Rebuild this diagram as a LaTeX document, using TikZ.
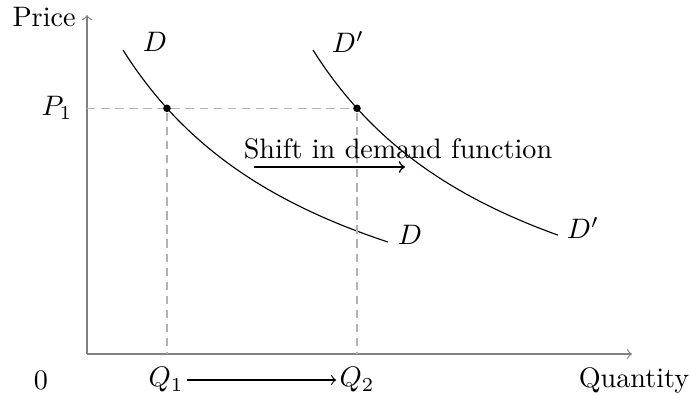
\documentclass[tikz,border=0pt]{standalone}
\begin{document}
\begin{tikzpicture}[x=0.355pt,y=-0.355pt,
  axis/.style={gray,->},
  guide/.style={gray!60,dash pattern=on 3pt off 2pt},
  curve/.style={black,samples=60},
  dot/.style={circle,fill=black,inner sep=0pt,minimum size=2.7pt},
  lbl/.style={inner sep=1pt}]
\useasboundingbox (0,0) rectangle (691,394);
\coordinate (O) at (87,354);
\coordinate (Ytop) at (87,15);
\coordinate (Xend) at (632,354);
\draw[axis] (O) -- (Ytop);
\draw[axis] (O) -- (Xend);
\node[lbl,anchor=east] (price) at (79,17) {Price};
\node[lbl] (zero) at (41,380) {$0$};
\node[lbl] (qty) at (634,380) {Quantity};
\node[lbl] (P1) at (57,108) {$P_1$};
% demand curves
\draw[curve] plot[domain=123:388] (\x,{403.6-788.5/((\x+100)/100)});
\draw[curve] plot[domain=313:558] (\x,{403.6-788.5/((\x-90)/100)});
\node[dot] (A) at (167,108.3) {};
\node[dot] (B) at (357,108.3) {};
\coordinate (A0) at (167,354);
\coordinate (B0) at (357,354);
\coordinate (Py) at (87,108.3);
\draw[guide] (Py) -- (A) -- (B);
\draw[guide] (A) -- (A0);
\draw[guide] (B) -- (B0);
\node[lbl] (D1) at (155,42) {$D$};
\node[lbl] (D2) at (410,235) {$D$};
\node[lbl] (Dp1) at (348,42) {$D'$};
\node[lbl] (Dp2) at (583,228) {$D'$};
\node[lbl] (Q1) at (166,380) {$Q_1$};
\node[lbl] (Q2) at (357,380) {$Q_2$};
\draw[->] (Q1) -- (Q2);
\node[lbl] (shift) at (398,149) {Shift in demand function};
\coordinate (s1) at (254,167);
\coordinate (s2) at (405,167);
\draw[->,semithick] (s1) -- (s2);
\end{tikzpicture}
\end{document}
